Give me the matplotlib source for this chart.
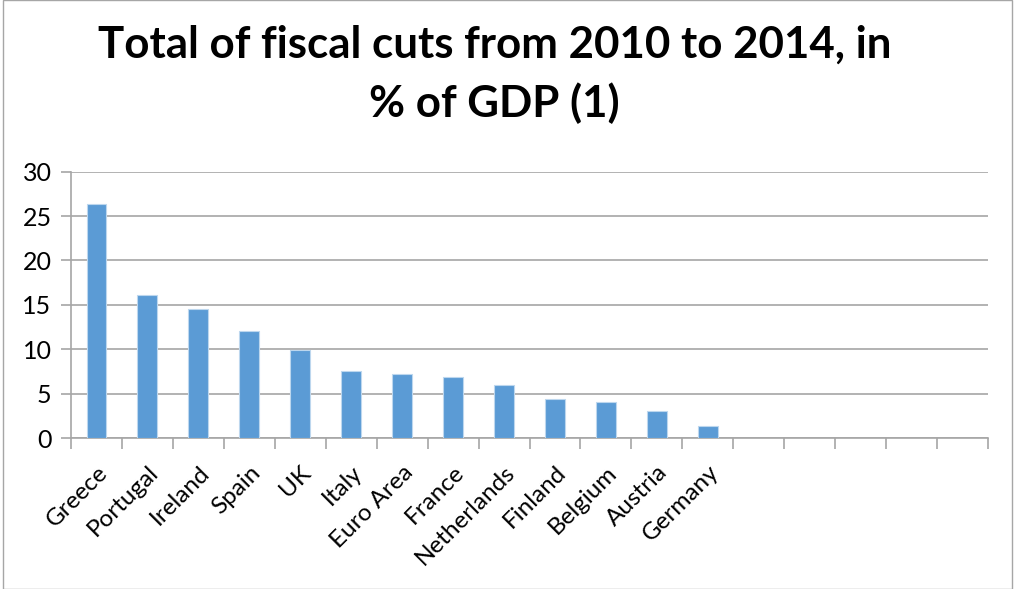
import matplotlib
matplotlib.use("Agg")
import matplotlib.pyplot as plt
from matplotlib.patches import Rectangle
import numpy as np

countries = ["Greece", "Portugal", "Ireland", "Spain", "UK", "Italy", "Euro Area",
             "France", "Netherlands", "Finland", "Belgium", "Austria", "Germany"]
values = [26.4, 16.1, 14.5, 12.0, 9.9, 7.5, 7.2, 6.9, 6.0, 4.4, 4.1, 3.0, 1.3]
n_slots = 18
yticks = [0, 5, 10, 15, 20, 25, 30]

plt.rcParams['font.family'] = ['Lato', 'DejaVu Sans']

fig = plt.figure(figsize=(10.15, 5.89), dpi=100)
ax = fig.add_axes([71/1015, 1-438/589, (988-71)/1015, (438-171.7)/589])

x = np.arange(len(countries))
ax.bar(x, values, width=0.39, color="#5B9BD5", edgecolor="#BDD7EE", linewidth=0.8, zorder=3)

ax.set_xlim(-0.5, n_slots - 0.5)
ax.set_ylim(0, 30)
ax.set_yticks(yticks)
ax.set_yticklabels([str(v) for v in yticks], fontsize=18)
ax.yaxis.grid(True, color="#A6A6A6", linewidth=1.2, zorder=0)
ax.set_axisbelow(True)

ax.set_xticks(np.arange(n_slots + 1) - 0.5)
ax.set_xticklabels([])
ax.set_xticks(x, minor=True)
ax.set_xticklabels(countries, minor=True, rotation=45, ha='right',
                   rotation_mode='anchor', fontsize=17.5)
ax.tick_params(axis='x', which='minor', length=0, pad=17)
ax.tick_params(axis='x', which='major', length=8, color="#A6A6A6", width=1.2)
ax.tick_params(axis='y', length=7, color="#A6A6A6", width=1.2, pad=7)

for s in ['top', 'right']:
    ax.spines[s].set_visible(False)
for s in ['left', 'bottom']:
    ax.spines[s].set_color("#A6A6A6")
    ax.spines[s].set_linewidth(1.2)

fig.text(0.487, 1-45/589, "Total of fiscal cuts from 2010 to 2014, in",
         ha='center', va='center', fontsize=31.6, fontweight='bold')
fig.text(0.487, 1-103/589, "% of GDP (1)",
         ha='center', va='center', fontsize=31.6, fontweight='bold')

fig.patches.append(Rectangle((3/1015, 0), 1-6/1015, 1, transform=fig.transFigure,
                             fill=False, edgecolor="#A6A6A6", linewidth=1))

fig.savefig("out.png", dpi=100)
